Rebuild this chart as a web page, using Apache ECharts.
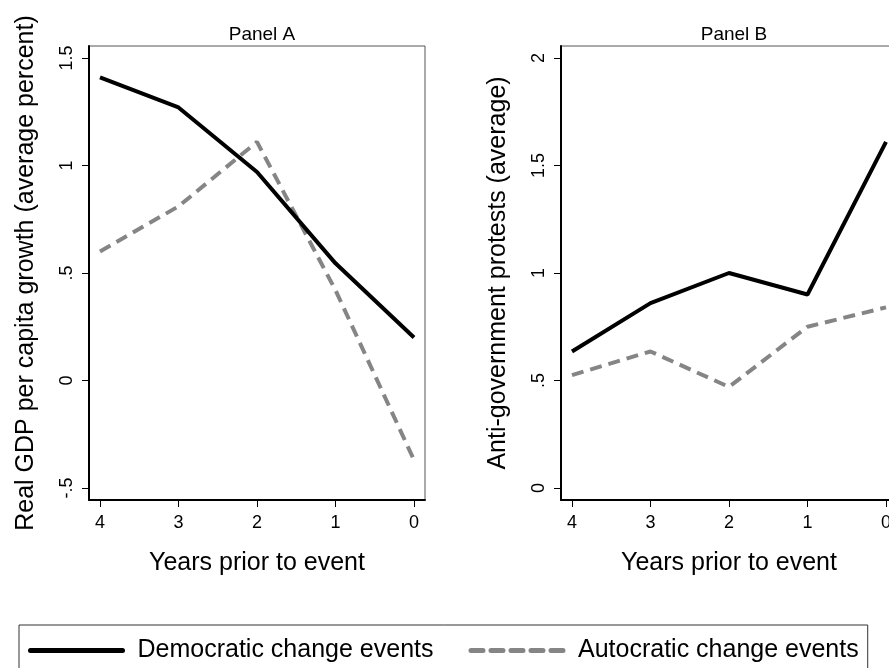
<!DOCTYPE html>
<html>
<head>
<meta charset="utf-8">
<script src="https://cdn.jsdelivr.net/npm/echarts@6/dist/echarts.min.js"></script>
<style>
  html, body { margin: 0; padding: 0; background: #fff; }
  #chart { width: 889px; height: 668px; }
</style>
</head>
<body>
<div id="chart"></div>
<script>
const FONT = "Liberation Sans, Arial, sans-serif";
const DEM_COLOR = "#000000";
const AUT_COLOR = "#858585";
const DASH = [12, 7];

// Years prior to event (x axis runs 4 -> 0)
const years = [4, 3, 2, 1, 0];
const yearTicks = [4, 3, 2, 1, 0];

// Panel A: real GDP per capita growth (average percent)
const gdpDemocratic = [1.41, 1.27, 0.97, 0.545, 0.2];
const gdpAutocratic = [0.6, 0.81, 1.11, 0.42, -0.37];
const gdpTicks = [-0.5, 0, 0.5, 1, 1.5];

// Panel B: anti-government protests (average)
const protestDemocratic = [0.635, 0.86, 1.0, 0.9, 1.61];
const protestAutocratic = [0.525, 0.635, 0.47, 0.75, 0.84];
const protestTicks = [0, 0.5, 1, 1.5, 2];

const pairs = (vals) => years.map((x, i) => [x, vals[i]]);

// Stata-style labels: ".5", "-.5"
const fmt = (v) => (v === 0 ? "0" : String(v).replace(/^(-?)0\./, "$1."));

const chart = echarts.init(document.getElementById("chart"));

function xAxis(gridIndex) {
  return {
    type: "value",
    gridIndex,
    inverse: true,
    min: -0.14,
    max: 4.14,
    name: "Years prior to event",
    nameLocation: "middle",
    nameGap: 51,
    nameTextStyle: { fontFamily: FONT, fontSize: 25, color: "#000" },
    axisLine: { show: true, onZero: false, lineStyle: { color: "#000", width: 2 } },
    axisTick: { show: true, length: 7, customValues: yearTicks, lineStyle: { color: "#000", width: 1 } },
    axisLabel: { customValues: yearTicks, fontFamily: FONT, fontSize: 18, color: "#000", margin: 14 },
    splitLine: { show: false },
  };
}

function yAxis(gridIndex, name, min, max, ticks) {
  return {
    type: "value",
    gridIndex,
    min,
    max,
    name,
    nameLocation: "middle",
    nameGap: 50,
    nameRotate: 90,
    nameTextStyle: { fontFamily: FONT, fontSize: 25, color: "#000" },
    axisLine: { show: true, onZero: false, lineStyle: { color: "#000", width: 2 } },
    axisTick: { show: true, length: 7, customValues: ticks, lineStyle: { color: "#000", width: 1 } },
    axisLabel: {
      customValues: ticks,
      rotate: 90,
      formatter: fmt,
      fontFamily: FONT,
      fontSize: 18,
      color: "#000",
      margin: 13,
    },
    splitLine: { show: false },
  };
}

function series(name, idx, vals, dashed) {
  return {
    name,
    type: "line",
    xAxisIndex: idx,
    yAxisIndex: idx,
    data: pairs(vals),
    symbol: "none",
    lineStyle: {
      color: dashed ? AUT_COLOR : DEM_COLOR,
      width: 4,
      type: dashed ? DASH : "solid",
    },
    itemStyle: { color: dashed ? AUT_COLOR : DEM_COLOR },
    z: dashed ? 2 : 3,
  };
}

const gridBase = {
  top: 46, width: 336, height: 454,
  show: true, borderColor: "#555", borderWidth: 1, backgroundColor: "#fff",
  outerBoundsMode: "none", containLabel: false,
};

const option = {
  animation: false,
  backgroundColor: "#fff",
  textStyle: { fontFamily: FONT },
  title: [
    { text: "Panel A", left: 257, top: 20, textAlign: "center",
      textStyle: { fontFamily: FONT, fontSize: 19, fontWeight: "normal", color: "#000" } },
    { text: "Panel B", left: 729, top: 20, textAlign: "center",
      textStyle: { fontFamily: FONT, fontSize: 19, fontWeight: "normal", color: "#000" } },
  ],
  grid: [
    Object.assign({ left: 89 }, gridBase),
    Object.assign({ left: 561 }, gridBase),
  ],
  legend: {
    left: 19,
    top: 625,
    padding: [13, 9, 13, 9],
    itemGap: 35,
    itemWidth: 92,
    itemHeight: 20,
    borderColor: "#333",
    borderWidth: 1,
    itemStyle: { opacity: 0 },
    textStyle: { fontFamily: FONT, fontSize: 25, color: "#000", padding: [0, 0, 0, 10] },
    data: [
      { name: "Democratic change events", lineStyle: { width: 5, color: DEM_COLOR, type: "solid", cap: "round" } },
      { name: "Autocratic change events", lineStyle: { width: 5, color: AUT_COLOR, type: [12, 8], cap: "round" } },
    ],
  },
  xAxis: [xAxis(0), xAxis(1)],
  yAxis: [
    yAxis(0, "Real GDP per capita growth (average percent)", -0.556, 1.556, gdpTicks),
    yAxis(1, "Anti-government protests (average)", -0.056, 2.056, protestTicks),
  ],
  series: [
    series("Democratic change events", 0, gdpDemocratic, false),
    series("Autocratic change events", 0, gdpAutocratic, true),
    series("Democratic change events", 1, protestDemocratic, false),
    series("Autocratic change events", 1, protestAutocratic, true),
  ],
};

chart.setOption(option);
</script>
</body>
</html>
